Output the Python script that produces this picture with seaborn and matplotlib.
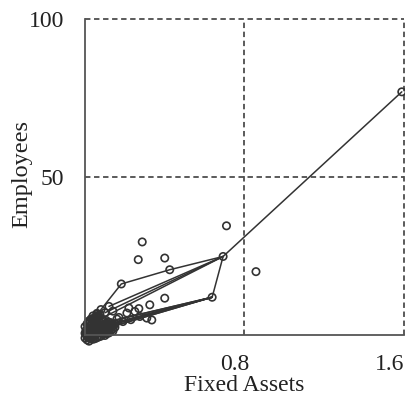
import matplotlib
matplotlib.use("Agg")
import matplotlib.pyplot as plt
import matplotlib.transforms as mtransforms
import pandas as pd
import seaborn as sns

# Firms: fixed assets vs. employees
fixed_assets = [
    1.59, 0.71, 0.858, 0.693, 0.638, 0.287, 0.267, 0.40, 0.425, 0.182,
    0.40, 0.325, 0.27, 0.335, 0.22, 0.12, 0.08, 0.10, 0.06, 0.21,
    0.25, 0.275, 0.31, 0.14, 0.17, 0.19, 0.23,
    0.00, 0.01, 0.02, 0.02, 0.03, 0.03, 0.04, 0.04, 0.05, 0.05,
    0.06, 0.06, 0.07, 0.07, 0.08, 0.08, 0.09, 0.10, 0.11, 0.12,
    0.01, 0.02, 0.03, 0.04, 0.05, 0.06, 0.07, 0.08, 0.09, 0.10,
    0.13, 0.15, 0.16, 0.00, 0.01, 0.03, 0.05,
    0.005, 0.015, 0.025, 0.035, 0.045, 0.055, 0.065, 0.075, 0.085, 0.095,
    0.005, 0.015, 0.025, 0.035, 0.045, 0.055, 0.065, 0.075, 0.085, 0.095,
    0.01, 0.02, 0.03, 0.04, 0.05, 0.06, 0.07, 0.02, 0.04, 0.06,
    0.105, 0.115, 0.125, 0.135, 0.145, 0.11, 0.12, 0.13, 0.14, 0.15,
    0.10, 0.11, 0.12, 0.13, 0.09, 0.08, 0.07, 0.06, 0.05, 0.04,
    0.015, 0.025, 0.035, 0.045, 0.055, 0.065, 0.075, 0.085, 0.095, 0.105,
    0.00, 0.01, 0.02, 0.03, 0.04, 0.06, 0.08, 0.10, 0.12, 0.14,
]
employees = [
    76.9, 34.5, 20.0, 24.8, 11.9, 29.4, 23.8, 24.3, 20.6, 16.1,
    11.6, 9.5, 8.3, 4.7, 8.5, 9.0, 8.0, 7.0, 6.5, 6.9,
    7.4, 5.8, 5.3, 7.5, 5.5, 4.2, 4.8,
    0.5, 1.0, 0.2, 2.0, 1.5, 3.0, 0.8, 2.5, 1.2, 3.5,
    2.0, 4.0, 1.5, 3.0, 2.5, 4.5, 2.0, 3.5, 3.0, 4.0,
    -0.5, -1.0, 0.3, 1.0, 0.5, 1.5, 0.8, 1.8, 1.2, 2.2,
    3.0, 3.5, 5.0, -1.0, 0.0, -0.8, -0.3,
    0.2, 0.6, 1.1, 1.7, 2.3, 2.6, 3.2, 3.8, 2.9, 1.6,
    1.4, 2.2, 2.7, 3.4, 0.1, 0.4, 1.0, 0.6, 0.9, 0.7,
    -1.6, -2.0, -1.3, -0.2, 4.2, 5.2, 5.6, 3.6, 4.6, 1.9,
    1.0, 1.6, 2.1, 2.6, 3.1, 0.4, 0.9, 1.4, 1.9, 2.4,
    2.0, 2.8, 3.3, 3.8, 0.2, -0.4, -0.6, -0.9, -1.2, -1.4,
    4.0, 4.4, 4.9, 5.3, 5.8, 6.1, 6.4, 5.0, 4.4, 4.6,
    2.6, 3.4, 4.4, 5.0, 6.0, 6.8, 0.8, -0.2, 0.6, 1.2,
]

# Connecting paths between firms (path id, fixed assets, employees)
path_id = [1, 1, 1, 1, 1, 1,
           2, 2, 3, 3, 4, 4,
           5, 5, 5, 6, 6, 7, 7, 8, 8,
           9, 9, 9, 9, 9, 9, 9,
           10, 10, 10, 10, 10,
           11, 11, 12, 12, 13, 13, 14, 14,
           15, 15, 15, 15, 15, 15, 15, 15,
           16, 16, 16, 16, 16, 16, 16]
path_x = [0.02, 0.08, 0.182, 0.425, 0.693, 1.59,
          0.693, 0.10, 0.693, 0.12, 0.693, 0.06,
          0.693, 0.638, 0.04, 0.638, 0.05, 0.638, 0.03, 0.638, 0.07,
          0.00, 0.06, 0.02, 0.10, 0.01, 0.08, 0.03,
          0.02, 0.12, 0.04, 0.09, 0.00,
          0.638, 0.02, 0.638, 0.06, 0.638, 0.09, 0.638, 0.01,
          0.00, 0.07, 0.01, 0.05, 0.00, 0.04, 0.02, 0.08,
          0.15, 0.03, 0.13, 0.01, 0.11, 0.05, 0.14]
path_y = [1.0, 8.0, 16.1, 20.6, 24.8, 76.9,
          24.8, 7.0, 24.8, 9.0, 24.8, 4.5,
          24.8, 11.9, 2.0, 11.9, 1.0, 11.9, 2.8, 11.9, 3.5,
          0.5, 3.0, 1.5, 2.5, -0.5, 1.0, 0.0,
          2.0, 4.0, 0.5, 1.5, -1.0,
          11.9, 0.5, 11.9, 1.8, 11.9, 2.6, 11.9, 1.5,
          2.5, 0.2, 3.5, -0.5, 1.2, 3.0, -1.5, 0.6,
          2.2, -0.5, 1.0, 2.0, 0.2, 3.5, 3.0]

x_ticks = [0.8, 1.6]
x_tick_labels = ["0.8", "1.6"]
y_ticks = [50, 100]
y_tick_labels = ["50", "100"]

points = pd.DataFrame({"Fixed Assets": fixed_assets, "Employees": employees})
paths = pd.DataFrame({"path": path_id, "Fixed Assets": path_x, "Employees": path_y})

sns.set_style("white")
plt.rcParams["font.family"] = ["Liberation Serif", "DejaVu Serif"]

fig = plt.figure(figsize=(4.05, 4.01), dpi=100)
ax = fig.add_axes([0.21, 0.165, 0.787, 0.788])

line_col = "#333333"
grid_col = "#4d4d4d"

sns.lineplot(data=paths, x="Fixed Assets", y="Employees", units="path",
             estimator=None, sort=False, color=line_col, linewidth=1.1,
             ax=ax, legend=False)
for ln in ax.lines:
    ln.set_clip_on(False)

sns.scatterplot(data=points, x="Fixed Assets", y="Employees", marker="o",
                s=28, facecolor="none", edgecolor=line_col, linewidth=1.2,
                ax=ax, legend=False, clip_on=False)

ax.set_xlim(0, 1.6)
ax.set_ylim(0, 100)

for xv in x_ticks:
    ax.axvline(xv, color=grid_col, linestyle=(0, (3, 2)), linewidth=1.3,
               clip_on=False, zorder=0)
for yv in y_ticks:
    ax.axhline(yv, color=grid_col, linestyle=(0, (3, 2)), linewidth=1.3,
               clip_on=False, zorder=0)

for side in ("top", "right"):
    ax.spines[side].set_visible(False)
for side in ("left", "bottom"):
    ax.spines[side].set_color("#555555")
    ax.spines[side].set_linewidth(1.3)

ax.set_xticks(x_ticks)
ax.set_xticklabels(x_tick_labels, fontsize=17)
ax.set_yticks(y_ticks)
ax.set_yticklabels(y_tick_labels, fontsize=17)
ax.tick_params(axis="both", length=0, pad=14, colors="#222222")
ax.tick_params(axis="y", pad=15)

xlabels = ax.get_xticklabels()
shift = mtransforms.ScaledTranslation(-10 / 100, 0, fig.dpi_scale_trans)
xlabels[0].set_transform(xlabels[0].get_transform() + shift)
xlabels[1].set_horizontalalignment("right")
edge = mtransforms.ScaledTranslation(1 / 100, 0, fig.dpi_scale_trans)
xlabels[1].set_transform(xlabels[1].get_transform() + edge)

ax.set_xlabel("Fixed Assets", fontsize=17, color="#222222", labelpad=0)
ax.set_ylabel("Employees", fontsize=17.5, color="#222222")
ax.yaxis.set_label_coords(-0.165, 0.51)

fig.savefig("out.png", dpi=100)
